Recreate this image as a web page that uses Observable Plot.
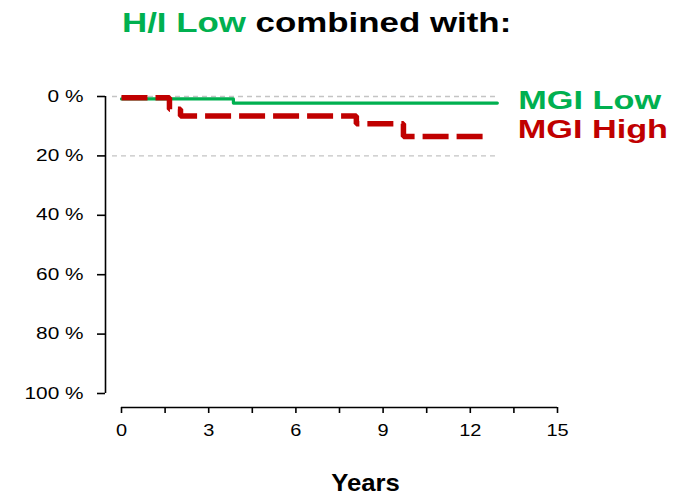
<!DOCTYPE html>
<html><head><meta charset="utf-8">
<script src="https://cdn.jsdelivr.net/npm/d3@7"></script>
<script src="https://cdn.jsdelivr.net/npm/@observablehq/plot@0.6"></script>
<style>
body{margin:0;background:#fff;}
#wrap{position:relative;width:681px;height:496px;overflow:hidden;font-family:"Liberation Sans",Arial,sans-serif;}
#title{position:absolute;left:122px;top:0;height:50px;white-space:nowrap;font-weight:bold;font-size:28px;line-height:28px;padding-top:9px;transform:scaleX(1.245);transform-origin:0 0;color:#000;}
#chart{position:absolute;left:0;top:50px;}
#chart svg g[aria-label$="tick"]{stroke-width:1.6;}
</style></head>
<body><div id="wrap"><div id="title"><span style="color:#00b050">H/I Low</span> combined with:</div><div id="chart"></div></div>
<script>
const xTicks = [0, 1.5, 3, 4.5, 6, 7.5, 9, 10.5, 12, 13.5, 15];
const yTicks = [0, 20, 40, 60, 80, 100];
const gridPct = [0, 20];
const seriesNames = ["MGI Low", "MGI High"];
const seriesColors = ["#00b050", "#c00000"];
const lowYears = [0, 3.85, 12.93];
const lowPct = [0.8, 2.2, 2.2];
const highYears = [0, 1.65, 2.03, 8.08, 9.7, 12.6];
const highPct = [0.4, 4.3, 6.6, 9.2, 13.5, 13.5];
const xTitle = "Years";

const low = lowYears.map((t, i) => ({t, p: lowPct[i], s: seriesNames[0]}));
const high = highYears.map((t, i) => ({t, p: highPct[i], s: seriesNames[1]}));

const plot = Plot.plot({
  width: 681, height: 446,
  marginLeft: 121, marginRight: 124, marginTop: 46, marginBottom: 103,
  x: {domain: [0, 15], axis: null},
  y: {domain: [0, 100], reverse: true, axis: null},
  style: {fontFamily: "'Liberation Sans', Arial, sans-serif", fontSize: "16px", color: "#000", background: "white", overflow: "visible"},
  marks: [
    Plot.ruleY(gridPct, {x1: -0.31, x2: 12.87, stroke: "#c4c4c4", strokeWidth: 1.3, strokeDasharray: "5,4"}),
    Plot.ruleX([0], {y1: 0, y2: 100, dx: -16, stroke: "#000", strokeWidth: 1.6}),
    Plot.axisY({ticks: yTicks, tickFormat: d => `${d} %`, tickSize: 8, tickPadding: 14, dx: -16, fontSize: 16, label: null}),
    Plot.ruleY([100], {x1: 0, x2: 15, dy: 14, stroke: "#000", strokeWidth: 1.6}),
    Plot.axisX({ticks: xTicks, tickFormat: d => d % 3 === 0 ? String(d) : "", tickSize: 6, tickPadding: 11, dy: 14, fontSize: 16, label: null}),
    Plot.line(low, {x: "t", y: "p", curve: "step-after", stroke: seriesColors[0], strokeWidth: 3.2}),
    Plot.line(high, {x: "t", y: "p", curve: "step-after", stroke: seriesColors[1], strokeWidth: 5.5, strokeDasharray: "26,8", strokeLinecap: "butt", strokeLinejoin: "miter"}),
    Plot.text(low, Plot.selectLast({x: "t", y: "p", text: "s", dx: 21, dy: -2.5, textAnchor: "start", fill: seriesColors[0], fontSize: 25, fontWeight: "bold"})),
    Plot.text(high, Plot.selectLast({x: "t", y: "p", text: "s", dx: 30, dy: -7, textAnchor: "start", fill: seriesColors[1], fontSize: 25, fontWeight: "bold"})),
    Plot.text([xTitle], {text: d => d, frameAnchor: "bottom", dx: 26, dy: 97, lineAnchor: "bottom", fontSize: 24, fontWeight: "bold"})
  ]
});
document.getElementById("chart").append(plot);

plot.querySelectorAll("text").forEach(el => {
  const s = el.textContent;
  let k = 1;
  if (s.includes("%")) k = 1.3;
  else if (/^\d+$/.test(s)) k = 1.25;
  else if (s.startsWith("MGI")) k = 1.37;
  else if (s === xTitle) k = 1.07;
  const L = el.getComputedTextLength();
  if (L > 0 && k !== 1) {
    el.setAttribute("textLength", (L * k).toFixed(1));
    el.setAttribute("lengthAdjust", "spacingAndGlyphs");
  }
});
</script>
</body></html>
